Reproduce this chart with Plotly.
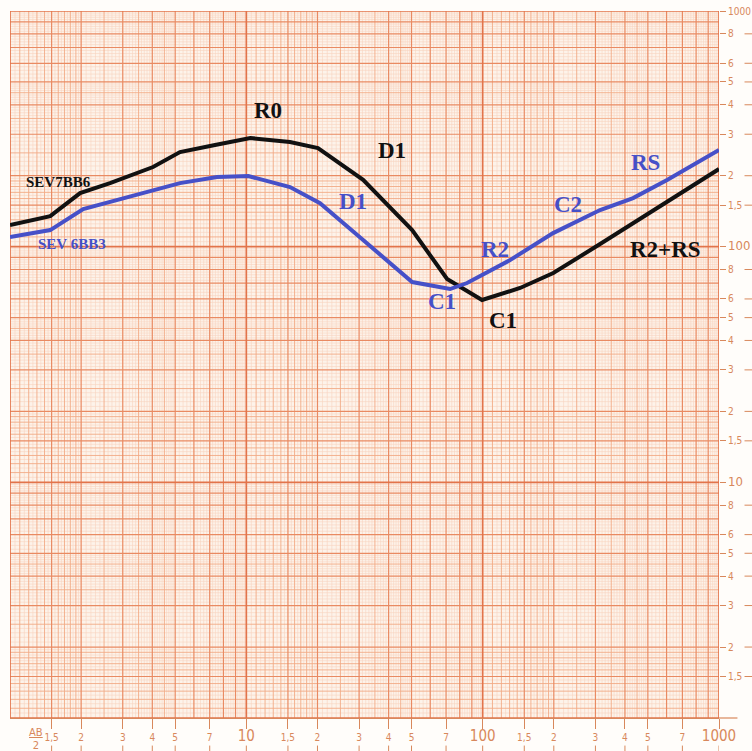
import numpy as np
import plotly.graph_objects as go

# ---------------- data ----------------
sev7_x = [1.0, 1.48, 1.98, 2.65, 4.03, 5.24, 7.37, 10.4, 15.3, 20.1, 31.2, 50.3, 70.7, 99.4, 144, 199, 314, 1000]
sev7_y = [123.5, 134.8, 168.8, 186, 217.7, 252, 270, 289, 278, 262, 192, 117.6, 72.9, 59.4, 66.8, 77.3, 102.6, 213.5]

sev6_x = [1.0, 1.48, 2.04, 3.13, 4.03, 5.24, 7.52, 10.2, 15.3, 20.5, 31.2, 50.3, 72.8, 85.9, 130.6, 198.6, 314, 433, 603, 1000]
sev6_y = [109.8, 117.6, 144.5, 162.3, 174, 186, 197.4, 199.4, 179, 153, 106.7, 70.8, 66.1, 70.1, 87.7, 114.2, 143, 160.8, 191.7, 257]

x_tick_vals = [1.5, 2, 3, 4, 5, 7, 10, 15, 20, 30, 40, 50, 70, 100, 150, 200, 300, 400, 500, 700, 1000]
x_tick_text = ["1,5", "2", "3", "4", "5", "7", "10", "1,5", "2", "3", "4", "5", "7", "100",
               "1,5", "2", "3", "4", "5", "7", "1000"]
y_tick_vals = [1.5, 2, 3, 4, 5, 6, 8, 10, 15, 20, 30, 40, 50, 60, 80, 100,
               150, 200, 300, 400, 500, 600, 800, 1000]
y_tick_text = ["1,5", "2", "3", "4", "5", "6", "8", "10", "1,5", "2", "3", "4", "5", "6", "8", "100",
               "1,5", "2", "3", "4", "5", "6", "8", "1000"]

# curve labels: (text, x, y, colour, size)
BLACK = "#111111"
BLUE = "#4650c8"
labels = [
    ("SEV7BB6", 1.60, 188, BLACK, 15),
    ("SEV 6BB3", 1.83, 102.6, BLUE, 15),
    ("R0", 12.4, 380, BLACK, 23),
    ("D1", 41.4, 257, BLACK, 23),
    ("D1", 28.3, 156, BLUE, 23),
    ("R2", 112.9, 97.7, BLUE, 23),
    ("C2", 229.8, 151.7, BLUE, 23),
    ("RS", 491, 228.5, BLUE, 23),
    ("R2+RS", 591, 97.7, BLACK, 23),
    ("C1", 67.3, 58.8, BLUE, 23),
    ("C1", 122, 48.8, BLACK, 23),
]

# ---------------- log graph paper ----------------
ORANGE_TXT = "#d8885c"
TICK_FONT = "DejaVu Sans Condensed, DejaVu Sans"
decades = [1, 10, 100]

def build(mults):
    vals = []
    for d in decades:
        for m in mults:
            vals.append(round(m * d, 6))
    return sorted(set(vals))

fine_m = list(np.round(np.arange(1.05, 2.0, 0.05), 3)) + list(np.round(np.arange(2.1, 5.0, 0.1), 3)) + \
    list(np.round(np.arange(5.2, 10.0, 0.2), 3))
mid_m = list(np.round(np.arange(1.1, 2.0, 0.1), 3)) + [2.5, 3.5, 4.5]
major_m = [1.5, 2, 3, 4, 5, 6, 7, 8, 9]

major_set = set(build(major_m))
mid_set = set(build(mid_m)) - major_set
fine_set = set(build(fine_m)) - major_set - mid_set
dec_set = [1, 10, 100, 1000]


def grid_trace(vals, color, width):
    xs, ys = [], []
    for v in sorted(vals):
        xs += [v, v, None]
        ys += [1, 1000, None]
        xs += [1, 1000, None]
        ys += [v, v, None]
    return go.Scatter(x=xs, y=ys, mode="lines", line=dict(color=color, width=width),
                      hoverinfo="skip", showlegend=False)


fig = go.Figure()
fig.add_trace(grid_trace(fine_set, "#f8d4c0", 0.6))
fig.add_trace(grid_trace(mid_set, "#f2aa86", 0.9))
fig.add_trace(grid_trace(major_set, "#e98a62", 1.2))
fig.add_trace(grid_trace(dec_set, "#e2744b", 1.7))

# ---------------- curves ----------------
fig.add_trace(go.Scatter(x=sev7_x, y=sev7_y, mode="lines", name="SEV7BB6",
                         line=dict(color=BLACK, width=4), showlegend=False))
fig.add_trace(go.Scatter(x=sev6_x, y=sev6_y, mode="lines", name="SEV 6BB3",
                         line=dict(color=BLUE, width=4), showlegend=False))

annotations = []
for text, x, y, col, size in labels:
    annotations.append(dict(x=np.log10(x), y=np.log10(y), xref="x", yref="y", text="<b>%s</b>" % text,
                            showarrow=False, font=dict(family="Liberation Serif", size=size, color=col)))
annotations.append(dict(x=0.024, y=-0.03, xref="paper", yref="paper", text="<u>AB</u><br>2",
                        showarrow=False, yanchor="middle",
                        font=dict(family="DejaVu Sans", size=10, color=ORANGE_TXT)))

shapes = []
# lower part of x ticks (below labels); shapes on log axes take raw values
for v in x_tick_vals:
    shapes.append(dict(type="line", xref="x", yref="paper", x0=v, x1=v,
                       y0=-0.039, y1=-0.05, line=dict(color=ORANGE_TXT, width=1)))
# right part of y ticks (after the small labels only)
for v, t in zip(y_tick_vals, y_tick_text):
    if t in ("10", "100", "1000"):
        continue
    shapes.append(dict(type="line", xref="paper", yref="y", y0=v, y1=v,
                       x0=1.036, x1=1.05, line=dict(color=ORANGE_TXT, width=1)))
# extend axis line to the right
shapes.append(dict(type="line", xref="paper", yref="paper", x0=1.0, x1=1.026, y0=0, y1=0,
                   line=dict(color=ORANGE_TXT, width=1.2)))

xt = [("<span style='font-size:15px'>%s</span>" % t) if t in ("10", "100", "1000") else t for t in x_tick_text]
ysize = {"10": 13, "100": 13, "1000": 10}
yt = [("<span style='font-size:%dpx'>%s</span>" % (ysize[t], t)) if t in ysize else t for t in y_tick_text]

fig.update_layout(
    width=752, height=751,
    margin=dict(l=10, r=33, t=11, b=33, autoexpand=False),
    paper_bgcolor="#fffdfa",
    plot_bgcolor="#fdf3ea",
    annotations=annotations,
    shapes=shapes,
    xaxis=dict(type="log", range=[0, 3], showgrid=False, zeroline=False, automargin=False,
               tickvals=x_tick_vals, ticktext=xt, ticks="outside", ticklen=10, tickwidth=1,
               tickcolor=ORANGE_TXT, tickfont=dict(family=TICK_FONT, size=10, color=ORANGE_TXT),
               showline=True, linecolor=ORANGE_TXT, linewidth=1.2, mirror=False),
    yaxis=dict(type="log", range=[0, 3], showgrid=False, zeroline=False, side="right", automargin=False,
               tickvals=y_tick_vals, ticktext=yt, ticks="outside", ticklen=6, tickwidth=1,
               tickcolor=ORANGE_TXT, tickfont=dict(family=TICK_FONT, size=10, color=ORANGE_TXT),
               showline=False),
)

fig.write_html("out.html", config={"displayModeBar": False},
               post_script="document.body.style.margin='0';document.body.style.overflow='hidden';")
